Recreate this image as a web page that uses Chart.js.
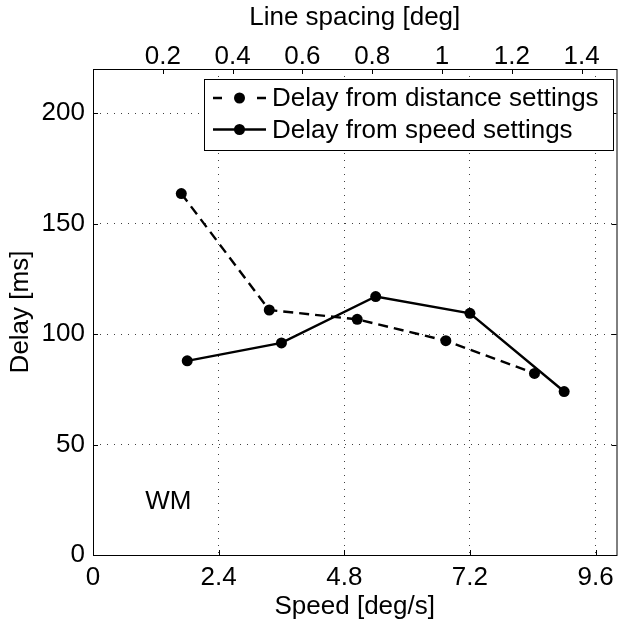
<!DOCTYPE html>
<html>
<head>
<meta charset="utf-8">
<script src="https://cdn.jsdelivr.net/npm/chart.js@4/dist/chart.umd.min.js"></script>
<style>
    html, body { margin: 0; padding: 0; background: #fff; overflow: hidden; }
    canvas { display: block; }
</style>
</head>
<body>
<canvas id="delayChart" width="622" height="624"></canvas>
<script>
// tick labels
const speedTicks   = [0, 2.4, 4.8, 7.2, 9.6]
const spacingTicks = [0.2, 0.4, 0.6, 0.8, 1, 1.2, 1.4]
const delayTicks   = [0, 50, 100, 150, 200]

// delay from distance settings (plotted on line spacing axis)
const distanceSpacing = [0.253, 0.505, 0.757, 1.011, 1.265]
const distanceDelay   = [163.6, 110.9, 106.7, 97.0, 82.2]

// delay from speed settings (plotted on speed axis)
const speedValues = [1.8, 3.6, 5.4, 7.2, 9.0]
const speedDelay  = [87.9, 96.0, 117.0, 109.4, 74.0]

const seriesLabels = ['Delay from distance settings', 'Delay from speed settings']
const panelLabel   = 'WM'

const FONT = '"Liberation Sans", Arial, Helvetica, sans-serif'
const TICK = 5
const GRID = 'rgba(0,0,0,0.75)'

Chart.defaults.font.family = FONT
Chart.defaults.font.size   = 26
Chart.defaults.color       = '#000'

const toPoints = (xs, ys) => xs.map((x, i) => ({ x: x, y: ys[i] }))
const setTicks = list => scale => { scale.ticks = list.map(v => ({ value: v })) }

const frame = {
    id: 'frame',
    afterDraw(chart) {
        const { ctx, chartArea: a, scales } = chart
        const px = (s, v) => Math.round(s.getPixelForValue(v)) + 0.5

        ctx.save()
        ctx.strokeStyle = '#000'
        ctx.lineWidth   = 1
        ctx.setLineDash([])
        ctx.beginPath()
        speedTicks.forEach(v => {
            const x = px(scales.x, v)
            ctx.moveTo(x, a.bottom); ctx.lineTo(x, a.bottom - TICK)
        })
        spacingTicks.forEach(v => {
            const x = px(scales.x2, v)
            ctx.moveTo(x, a.top); ctx.lineTo(x, a.top + TICK)
        })
        delayTicks.forEach(v => {
            const y = px(scales.y, v)
            ctx.moveTo(a.left, y);  ctx.lineTo(a.left + TICK, y)
            ctx.moveTo(a.right, y); ctx.lineTo(a.right - TICK, y)
        })
        ctx.stroke()
        ctx.strokeRect(a.left + 0.5, a.top + 0.5, a.right - a.left, a.bottom - a.top)

        // panel label
        ctx.font = '26px ' + FONT
        ctx.fillStyle = '#000'
        ctx.textAlign = 'center'
        ctx.textBaseline = 'middle'
        ctx.fillText(panelLabel, scales.x.getPixelForValue(1.44), scales.y.getPixelForValue(24))

        // legend box
        const box = { left: 204, top: 79, right: 613, bottom: 150 }
        const rows = [98, 129.5]
        ctx.fillStyle = '#fff'
        ctx.fillRect(box.left, box.top, box.right - box.left, box.bottom - box.top)
        ctx.lineWidth = 1
        ctx.strokeRect(box.left + 0.5, box.top + 0.5, box.right - box.left, box.bottom - box.top)

        chart.data.datasets.forEach((ds, i) => {
            const y = rows[i]
            ctx.lineWidth = ds.borderWidth
            ctx.strokeStyle = '#000'
            ctx.setLineDash(ds.borderDash.length ? [9, 35] : [])
            ctx.beginPath()
            ctx.moveTo(213, y); ctx.lineTo(266, y)
            ctx.stroke()
            ctx.setLineDash([])
            ctx.fillStyle = '#000'
            ctx.beginPath()
            ctx.arc(239.5, y, ds.pointRadius, 0, Math.PI * 2)
            ctx.fill()
            ctx.textAlign = 'left'
            ctx.fillText(ds.label, 272, y + 1)
        })
        ctx.restore()
    }
}

new Chart(document.getElementById('delayChart'), {
    type: 'scatter',
    data: {
        datasets: [{
            label: seriesLabels[0],
            data: toPoints(distanceSpacing, distanceDelay),
            xAxisID: 'x2',
            showLine: true,
            borderColor: '#000',
            backgroundColor: '#000',
            borderWidth: 2.4,
            borderDash: [10, 6],
            pointRadius: 5.5,
            pointBorderWidth: 0
        }, {
            label: seriesLabels[1],
            data: toPoints(speedValues, speedDelay),
            xAxisID: 'x',
            showLine: true,
            borderColor: '#000',
            backgroundColor: '#000',
            borderWidth: 2.4,
            borderDash: [],
            pointRadius: 5.5,
            pointBorderWidth: 0
        }]
    },
    options: {
        responsive: false,
        animation: false,
        devicePixelRatio: 1,
        layout: { padding: 0 },
        plugins: { legend: { display: false }, tooltip: { enabled: false } },
        scales: {
            x: {
                type: 'linear', position: 'bottom', min: 0, max: 10,
                afterBuildTicks: setTicks(speedTicks),
                afterFit: s => { s.height = 69 },
                grid: { color: GRID, lineWidth: 1, drawTicks: false },
                border: { display: false, dash: [1, 6] },
                ticks: { padding: 7, maxRotation: 0, callback: v => String(v) },
                title: { display: true, text: 'Speed [deg/s]', padding: { top: 0, bottom: 2 } }
            },
            x2: {
                type: 'linear', position: 'top', min: 0, max: 1.5,
                afterBuildTicks: setTicks(spacingTicks),
                afterFit: s => { s.height = 69 },
                grid: { display: false, drawTicks: false },
                border: { display: false },
                ticks: { padding: -3, maxRotation: 0, callback: v => String(v) },
                title: { display: true, text: 'Line spacing [deg]', padding: { top: 2, bottom: 0 } }
            },
            y: {
                type: 'linear', position: 'left', min: 0, max: 220,
                afterBuildTicks: setTicks(delayTicks),
                afterFit: s => { s.width = 93 },
                grid: { color: GRID, lineWidth: 1, drawTicks: false },
                border: { display: false, dash: [1, 6] },
                ticks: { padding: 8, callback: v => String(v) },
                title: { display: true, text: 'Delay [ms]', padding: 5 }
            }
        }
    },
    plugins: [frame]
})
</script>
</body>
</html>
